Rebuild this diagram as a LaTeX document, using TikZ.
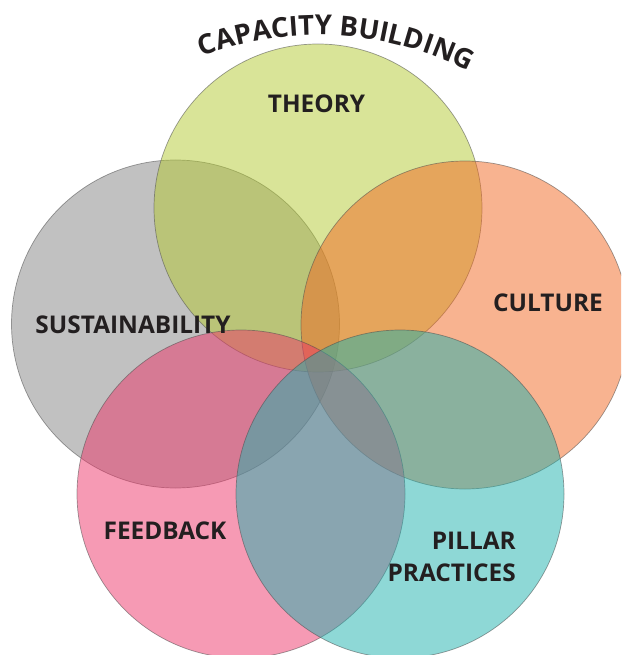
\documentclass[tikz,border=0pt]{standalone}
\usepackage{fontspec}
\setmainfont{Open Sans}
\usetikzlibrary{decorations.text}
% base colours, each drawn at half opacity
\definecolor{theoryc}{RGB}{179,201,49}
\definecolor{sustc}{RGB}{131,131,131}
\definecolor{cultc}{RGB}{241,103,33}
\definecolor{feedc}{RGB}{237,53,105}
\definecolor{pillc}{RGB}{29,177,173}
\definecolor{ink}{RGB}{35,31,32}
\begin{document}
\begin{tikzpicture}[x=1pt,y=-1pt,
  ring/.style={circle, minimum size=328pt, inner sep=0pt, fill=#1,
    fill opacity=0.5, draw=black!70, draw opacity=0.55, line width=0.7pt},
  lbl/.style={font=\bfseries\fontsize{24.4}{32}\selectfont, text=ink, inner sep=0pt}]
\useasboundingbox (0,0) rectangle (621,655);
\clip (0,0) rectangle (621,655);

% the five overlapping circles
\node[ring=sustc]   (sust) at (175.5,324) {};
\node[ring=theoryc] (theo) at (318,208) {};
\node[ring=cultc]   (cult) at (465,325) {};
\node[ring=feedc]   (feed) at (241,494) {};
\node[ring=pillc]   (pill) at (400,494) {};

% labels
\node[lbl] (ltheo) at (316.5,104) {THEORY};
\node[lbl] (lsust) at (133,324.5) {SUSTAINABILITY};
\node[lbl] (lcult) at (548,302.5) {CULTURE};
\node[lbl] (lfeed) at (165,530.5) {FEEDBACK};
\node[lbl, align=right, anchor=east] (lpill) at (516,557) {PILLAR\\PRACTICES};

% arched title
\path[decorate, decoration={text along path, text align=center, text color=ink,
    text={|\bfseries\fontsize{27.5}{30}\selectfont|CAPACITY BUILDING}}]
  ([shift={(318,364)}]-136.7:329) arc[start angle=-136.7, end angle=-36.7, radius=329];
\end{tikzpicture}
\end{document}
